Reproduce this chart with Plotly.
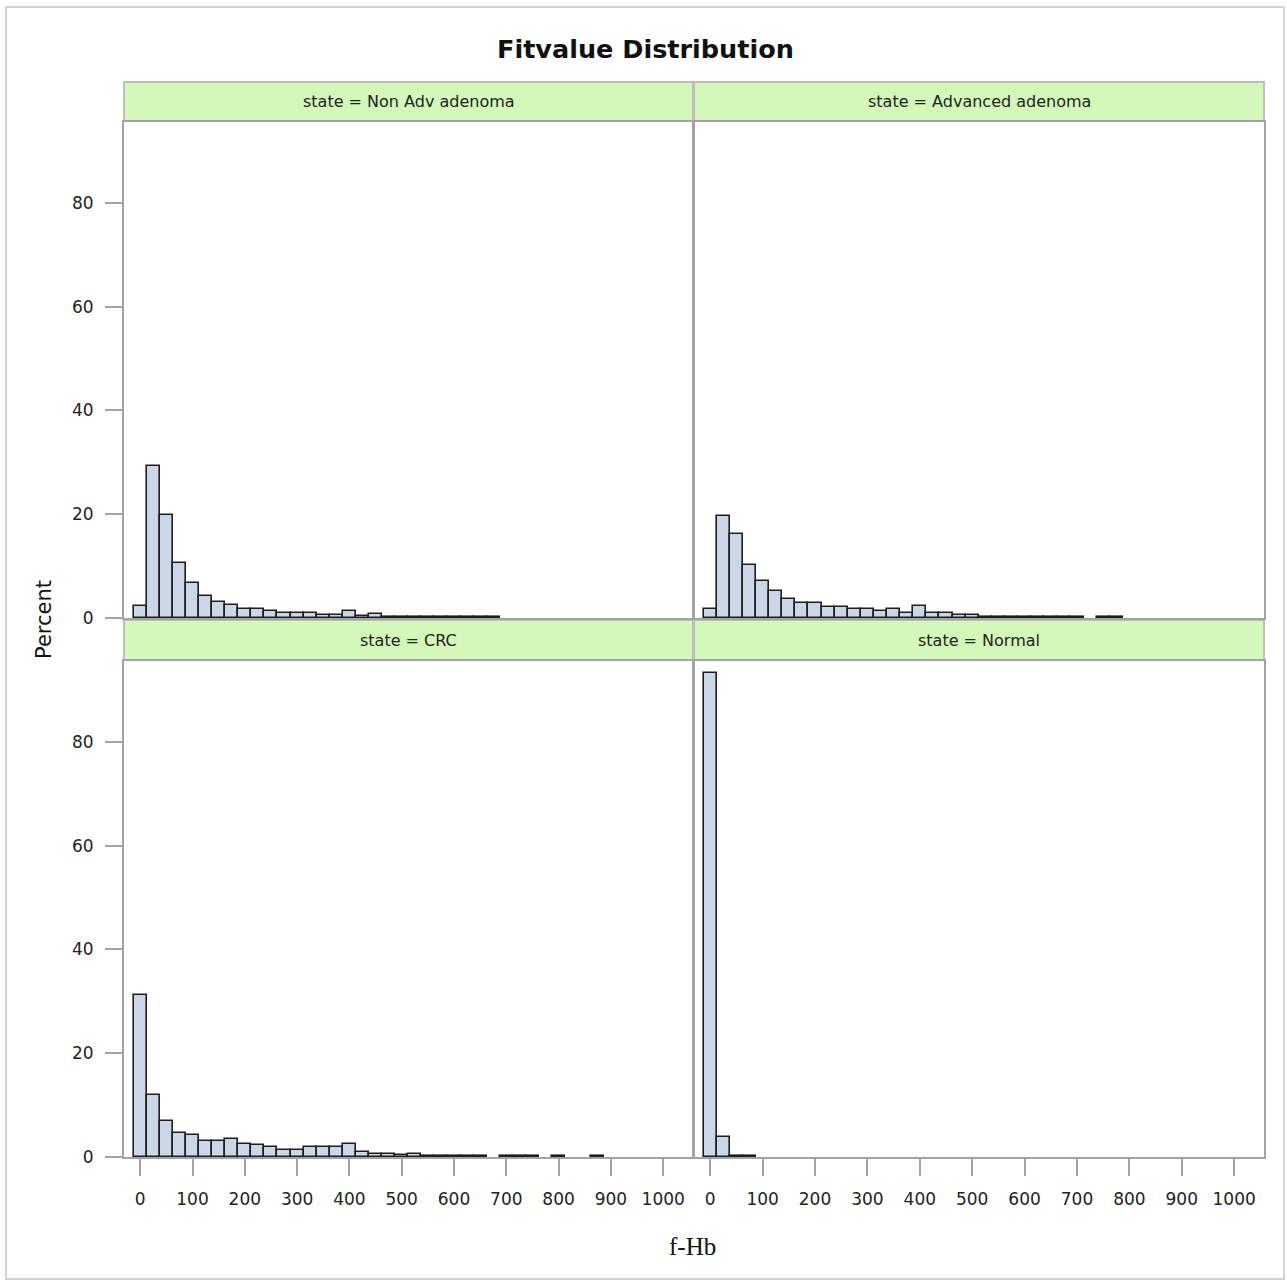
import plotly.graph_objects as go

# ---------------- data (percent per f-Hb bin, bin width 25, centres) ----------------
nonadv_bins = [0, 25, 50, 75, 100, 125, 150, 175, 200, 225, 250, 275, 300, 325, 350,
               375, 400, 425, 450, 475, 500, 525, 550, 575, 600, 625, 650, 675]
nonadv_pct = [2.3, 29.3, 19.9, 10.6, 6.8, 4.2, 3.0, 2.6, 1.8, 1.8, 1.4, 1.0, 1.0, 1.0, 0.65,
              0.65, 1.4, 0.3, 0.75, 0.25, 0.25, 0.25, 0.25, 0.25, 0.25, 0.25, 0.25, 0.25]

adv_bins = [0, 25, 50, 75, 100, 125, 150, 175, 200, 225, 250, 275, 300, 325, 350, 375,
            400, 425, 450, 475, 500, 525, 550, 575, 600, 625, 650, 675, 700, 750, 775]
adv_pct = [1.8, 19.6, 16.1, 10.3, 7.2, 5.3, 3.7, 2.9, 2.9, 2.1, 2.1, 1.7, 1.7, 1.4, 1.8, 0.95,
           2.4, 0.95, 0.95, 0.65, 0.65, 0.25, 0.25, 0.25, 0.25, 0.25, 0.25, 0.25, 0.25, 0.25, 0.25]

crc_bins = [0, 25, 50, 75, 100, 125, 150, 175, 200, 225, 250, 275, 300, 325, 350, 375,
            400, 425, 450, 475, 500, 525, 550, 575, 600, 625, 650, 700, 725, 750, 800, 875]
crc_pct = [31.3, 11.9, 6.9, 4.6, 4.2, 3.0, 3.0, 3.4, 2.6, 2.25, 1.85, 1.4, 1.4, 1.85, 1.85, 1.85,
           2.6, 0.95, 0.65, 0.65, 0.32, 0.65, 0.25, 0.25, 0.25, 0.25, 0.25, 0.25, 0.25, 0.25, 0.25, 0.25]

normal_bins = [0, 25, 50, 75]
normal_pct = [93.2, 3.9, 0.2, 0.2]

panel_titles = ["state = Non Adv adenoma", "state = Advanced adenoma", "state = CRC", "state = Normal"]
y_ticks = [0, 20, 40, 60, 80]
x_ticks = [0, 100, 200, 300, 400, 500, 600, 700, 800, 900, 1000]
bin_width = 25

# ---------------- layout helpers (reference pixel -> paper) ----------------
W, H = 1287, 1292
REF_H = 1282


def px(x):
    return x / W


def py(y):
    return 1 - y / REF_H


cols = [(124, 693), (694, 1264)]
rows_plot = [(122, 618), (661, 1157)]
rows_head = [(82, 121), (620, 660)]

BAR_FILL = "#CBD6E7"
BAR_LINE = "#1E1E1E"
FRAME = "#A3A3A3"
HEAD_FILL = "#D3F8BA"
HEAD_LINE = "#BEBEBE"
FONT = "DejaVu Sans"

fig = go.Figure()

series = [(nonadv_bins, nonadv_pct), (adv_bins, adv_pct), (crc_bins, crc_pct), (normal_bins, normal_pct)]
for i, (bx, by) in enumerate(series):
    ax = "" if i == 0 else str(i + 1)
    fig.add_trace(go.Bar(
        x=bx, y=by, width=bin_width,
        marker=dict(color=BAR_FILL, line=dict(color=BAR_LINE, width=1.6)),
        xaxis="x" + ax, yaxis="y" + ax, showlegend=False,
    ))

layout = dict(
    width=W, height=H, margin=dict(l=0, r=0, t=0, b=0),
    paper_bgcolor="white", plot_bgcolor="white", bargap=0,
)
shapes = []
annotations = []
for i in range(4):
    r, c = divmod(i, 2)
    ax = "" if i == 0 else str(i + 1)
    x0, x1 = cols[c]
    y0, y1 = rows_plot[r]
    xa = dict(
        domain=[px(x0), px(x1)], range=[-31, 1057], anchor="y" + ax,
        showgrid=False, zeroline=False, showline=True, mirror=True,
        linecolor=FRAME, linewidth=2,
        tickvals=x_ticks, ticks="outside" if r == 1 else "",
        ticklen=17, tickwidth=1.5, tickcolor=FRAME,
        showticklabels=(r == 1), ticklabelstandoff=9,
        tickfont=dict(family=FONT, size=17, color="#222222"),
    )
    ya = dict(
        domain=[py(y1), py(y0)], range=[0, 95.6], anchor="x" + ax,
        showgrid=False, zeroline=False, showline=True, mirror=True,
        linecolor=FRAME, linewidth=2,
        tickvals=y_ticks, ticks="outside" if c == 0 else "",
        ticklen=17, tickwidth=1.5, tickcolor=FRAME,
        showticklabels=(c == 0), ticklabelstandoff=8,
        tickfont=dict(family=FONT, size=17, color="#222222"),
    )
    layout["xaxis" + ax] = xa
    layout["yaxis" + ax] = ya

    hy0, hy1 = rows_head[r]
    shapes.append(dict(type="rect", xref="paper", yref="paper",
                       x0=px(x0), x1=px(x1), y0=py(hy1), y1=py(hy0),
                       fillcolor=HEAD_FILL, line=dict(color=HEAD_LINE, width=2), layer="below"))
    annotations.append(dict(text=panel_titles[i], xref="paper", yref="paper",
                            x=px((x0 + x1) / 2), y=py((hy0 + hy1) / 2),
                            xanchor="center", yanchor="middle", showarrow=False,
                            font=dict(family=FONT, size=16, color="#222222")))

# outer border
shapes.append(dict(type="rect", xref="paper", yref="paper",
                   x0=px(6), x1=px(1284), y0=py(1279), y1=py(7),
                   line=dict(color="#D2D2D2", width=2), fillcolor="rgba(0,0,0,0)", layer="below"))

annotations.append(dict(text="<b>Fitvalue Distribution</b>", xref="paper", yref="paper",
                        x=px(646), y=py(49), xanchor="center", yanchor="middle", showarrow=False,
                        font=dict(family=FONT, size=25.5, color="#111111")))
annotations.append(dict(text="Percent", xref="paper", yref="paper", textangle=-90,
                        x=px(44), y=py(620), xanchor="center", yanchor="middle", showarrow=False,
                        font=dict(family=FONT, size=21, color="#111111")))
annotations.append(dict(text="f-Hb", xref="paper", yref="paper",
                        x=px(692), y=py(1246), xanchor="center", yanchor="middle", showarrow=False,
                        font=dict(family="Liberation Serif", size=25, color="#111111")))

layout["shapes"] = shapes
layout["annotations"] = annotations
fig.update_layout(**layout)

fig.write_html(
    "out.html",
    config={"displayModeBar": False},
    post_script="document.documentElement.style.margin='0';document.body.style.margin='0';"
                "document.body.style.overflow='hidden';",
)
